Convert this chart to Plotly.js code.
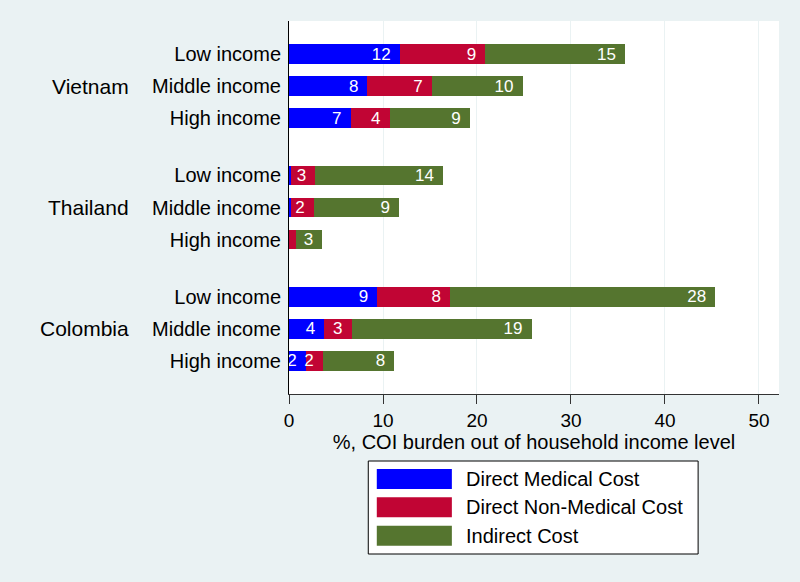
<!DOCTYPE html>
<html>
<head>
<meta charset="utf-8">
<script src="https://cdn.plot.ly/plotly-3.0.1.min.js"></script>
<style>html,body{margin:0;padding:0;background:#eaf2f3;}#chart{width:800px;height:582px;}</style>
</head>
<body>
<div id="chart"></div>
<script>
// ---- data ----
const countries = ["Vietnam", "Thailand", "Colombia"];
const incomeLevels = ["Low income", "Middle income", "High income"];
const seriesNames = ["Direct Medical Cost", "Direct Non-Medical Cost", "Indirect Cost"];
// values per country, in incomeLevels order
const directMedical    = [11.8, 8.35, 6.55,   0.25, 0.25, 0.05,   9.4, 3.75, 1.8];
const directNonMedical = [9.1, 6.85, 4.15,    2.55, 2.4, 0.65,    7.75, 2.9, 1.8];
const indirectCost     = [14.85, 9.65, 8.55,  13.6, 9.05, 2.85,   28.2, 19.15, 7.6];
const xTicks = [0, 10, 20, 30, 40, 50];

// ---- layout helpers ----
const FONT = "Liberation Sans, Arial, sans-serif";
const colors = ["#0000ff", "#c10534", "#55752f"];
const groupGap = 0.79;
const ypos = [];
countries.forEach((c, g) => incomeLevels.forEach((l, i) => ypos.push(g * (incomeLevels.length + groupGap) + i)));
const ticktext = [];
countries.forEach(() => incomeLevels.forEach(l => ticktext.push(l)));

const W = 800, H = 582, L = 289.3, R = 778.8, T = 21, B = 394;
const px2x = p => (p - L) / (R - L);
const px2y = p => (B - p) / (B - T);

const allSeries = [directMedical, directNonMedical, indirectCost];
const traces = allSeries.map((vals, k) => ({
  type: "bar",
  orientation: "h",
  name: seriesNames[k],
  x: vals,
  y: ypos,
  width: 0.61,
  marker: {color: colors[k], line: {width: 0}},
  text: vals.map(v => v >= 1 ? String(Math.round(v)) : ""),
  texttemplate: "%{text}\u00a0\u200a",
  textposition: "inside",
  insidetextanchor: "end",
  textangle: 0,
  constraintext: "none",
  textfont: {color: "#ffffff", size: 17, family: FONT},
  hoverinfo: "skip",
  showlegend: false
}));

const annotations = countries.map((c, g) => ({
  xref: "paper", yref: "y",
  x: px2x(131), y: ypos[g * incomeLevels.length + 1],
  xanchor: "right", yanchor: "middle",
  text: c, showarrow: false,
  font: {size: 21, color: "#000", family: FONT}
}));

const shapes = [{
  type: "rect", xref: "paper", yref: "paper",
  x0: px2x(368.5), x1: px2x(698), y0: px2y(461), y1: px2y(554),
  fillcolor: "#ffffff", line: {color: "#000", width: 1}
}];
const rowTops = [469, 497.3, 525.7];
seriesNames.forEach((n, k) => {
  shapes.push({
    type: "rect", xref: "paper", yref: "paper",
    x0: px2x(377), x1: px2x(452), y0: px2y(rowTops[k]), y1: px2y(rowTops[k] + 20),
    fillcolor: colors[k], line: {width: 0}
  });
  annotations.push({
    xref: "paper", yref: "paper",
    x: px2x(464), y: px2y(rowTops[k] + 10),
    xanchor: "left", yanchor: "middle",
    text: n, showarrow: false,
    font: {size: 20, color: "#000", family: FONT}
  });
});

const layout = {
  width: W, height: H,
  margin: {l: L, r: W - R, t: T, b: H - B, pad: 0},
  paper_bgcolor: "#eaf2f3",
  plot_bgcolor: "#ffffff",
  barmode: "stack",
  showlegend: false,
  font: {family: FONT, color: "#000"},
  xaxis: {
    range: [0, 52.13],
    tickvals: xTicks,
    ticks: "outside", ticklen: 9, tickcolor: "#333", tickwidth: 1,
    showline: true, linecolor: "#333", linewidth: 1,
    showgrid: true, gridcolor: "#eaf2f3", gridwidth: 1,
    zeroline: false,
    tickfont: {size: 19},
    title: {text: "%, COI burden out of household income level", font: {size: 20}, standoff: 2}
  },
  yaxis: {
    range: [ypos[ypos.length - 1] + 1.03, -1.03],
    tickvals: ypos, ticktext: ticktext,
    ticks: "", ticklabelstandoff: 3,
    showline: true, linecolor: "#000", linewidth: 1,
    showgrid: false, zeroline: false,
    tickfont: {size: 20}
  },
  shapes: shapes,
  annotations: annotations
};

Plotly.newPlot("chart", traces, layout, {displayModeBar: false, staticPlot: true});
</script>
</body>
</html>
